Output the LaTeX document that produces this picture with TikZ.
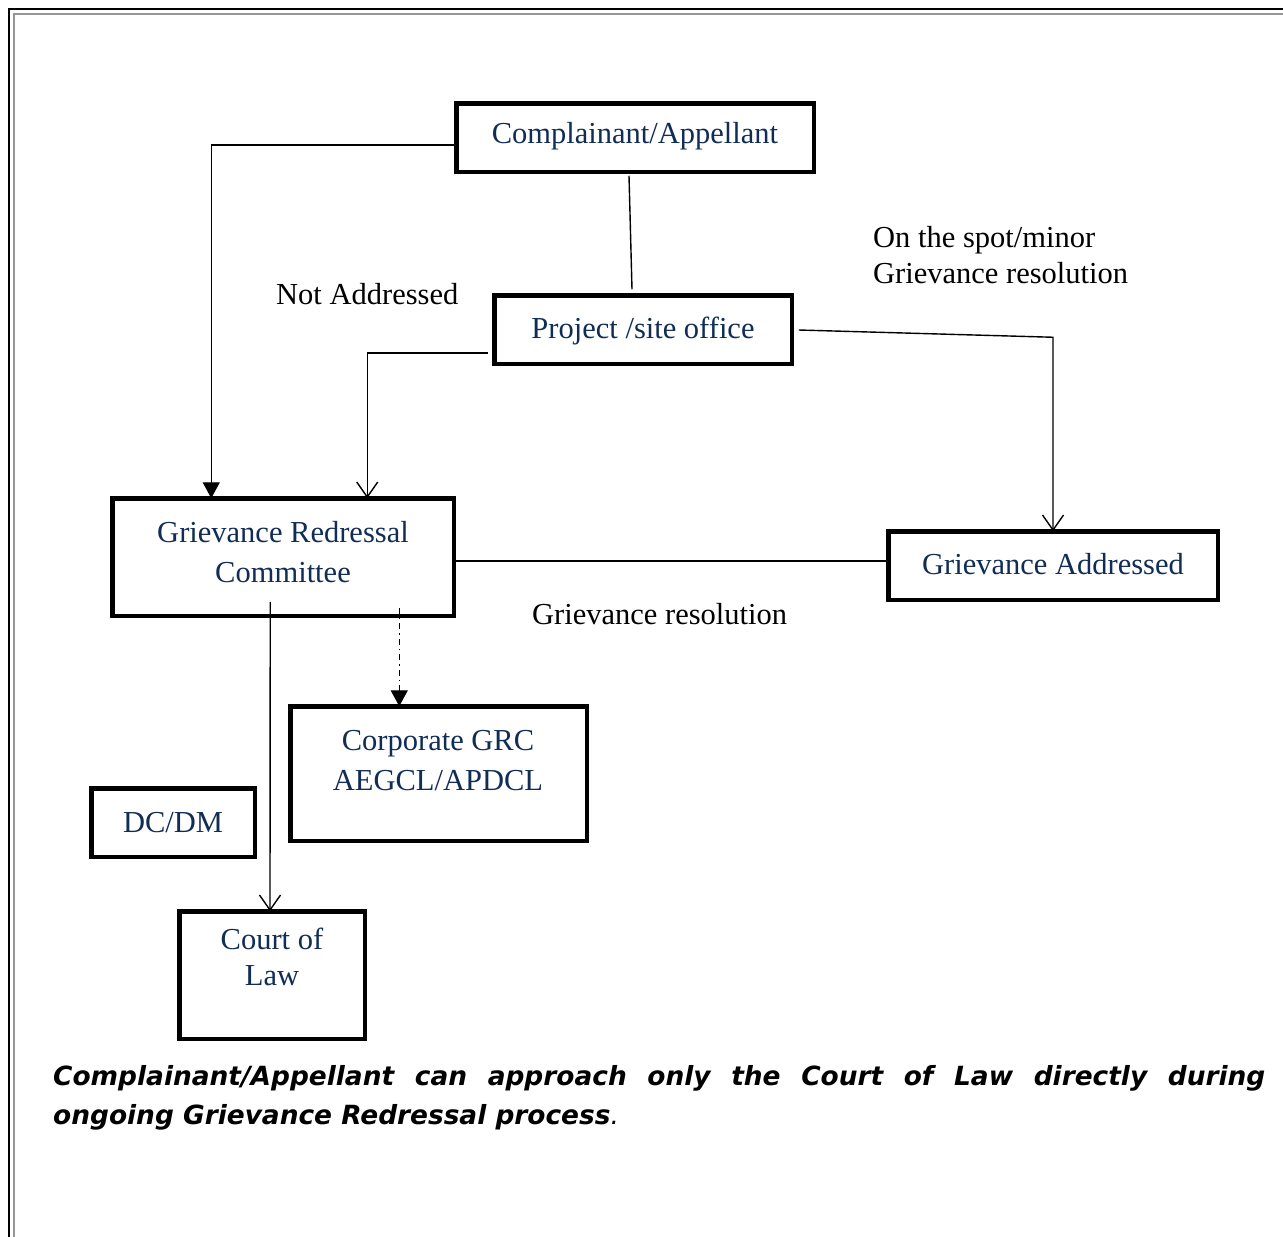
\documentclass[tikz,border=0pt]{standalone}
\usepackage{fontspec}
\setmainfont{Liberation Serif}
\newfontfamily\capfont{DejaVu Sans}
\usetikzlibrary{arrows.meta,calc}
\definecolor{navy}{RGB}{17,45,85}
\definecolor{framegray}{RGB}{150,150,150}
\begin{document}
\begin{tikzpicture}[x=1pt,y=-1pt,
  box/.style={draw,line width=4.5pt,inner sep=0pt,outer sep=0pt},
  lbl/.style={anchor=base,inner sep=0pt,text=navy,font=\fontsize{30.5}{36}\selectfont},
  note/.style={anchor=base west,inner sep=0pt,text=black,font=\fontsize{30.5}{36}\selectfont},
  conn/.style={draw,line width=1.4pt},
  fillarr/.style={-{Triangle[length=16pt,width=17pt]}},
  openarr/.style={-{Straight Barb[length=15pt,width=21pt,line width=1.4pt]}}]
\useasboundingbox (0,0) rectangle (1283,1237);
% page frame
\draw[line width=2pt] (9,1237) -- (9,9) -- (1283,9);
\draw[framegray,line width=1.8pt] (14,1237) -- (14,14) -- (1283,14);
% boxes
\node[box,minimum width=357.5pt,minimum height=68.5pt] (comp) at (635,137.5) {};
\node[box,minimum width=297.5pt,minimum height=68.5pt] (proj) at (643,329.5) {};
\node[box,minimum width=341.5pt,minimum height=117.5pt] (grc) at (283,557) {};
\node[box,minimum width=329.5pt,minimum height=68.5pt] (addr) at (1053,565.5) {};
\node[box,minimum width=296.5pt,minimum height=134.5pt] (corp) at (438.5,773.5) {};
\node[box,minimum width=163.5pt,minimum height=68.5pt] (dcdm) at (173,822.5) {};
\node[box,minimum width=185.5pt,minimum height=127.5pt] (court) at (272,975) {};
% box texts
\node[lbl] (tcomp) at (635,143) {Complainant/Appellant};
\node[lbl] (tproj) at (643,338) {Project /site office};
\node[lbl] (tgrc1) at (283,542) {Grievance Redressal};
\node[lbl] (tgrc2) at (283,582) {Committee};
\node[lbl] (taddr) at (1053,574) {Grievance Addressed};
\node[lbl] (tcorp1) at (438,750) {Corporate GRC};
\node[lbl] (tcorp2) at (438,790) {AEGCL/APDCL};
\node[lbl] (tdcdm) at (173,832) {DC/DM};
\node[lbl] (tcourt1) at (272,949) {Court of};
\node[lbl] (tcourt2) at (272,985) {Law};
% free labels
\node[note] (notaddr) at (276,304) {Not Addressed};
\node[note] (spot1) at (873,247) {On the spot/minor};
\node[note] (spot2) at (873,283) {Grievance resolution};
\node[note] (gres) at (532,624) {Grievance resolution};
% connectors
\draw[conn,fillarr] ($(comp.west)+(0,7.5)$) -| ($(grc.north west)+(99,0)$);
\draw[conn] ($(comp.south)+(-6,4)$) -- ($(proj.north)+(-11,-6)$);
\draw[conn,openarr] ($(proj.west)+(-6,23.5)$) -| ($(grc.north west)+(255,0)$);
\draw[conn,openarr] ($(proj.east)+(7,0.5)$) -- ($(addr.north)+(0,-194)$) -- (addr.north);
\draw[conn] ($(grc.east)+(0,4)$) -- ($(addr.west)+(0,-4.5)$);
\draw[conn,openarr] ($(grc.south west)+(158,-14)$) -- ($(court.north)+(-2,0)$);
\draw[conn,fillarr,dash pattern=on 6pt off 4pt on 1.5pt off 4pt] ($(grc.south west)+(287,-8)$) -- ($(corp.north west)+(109,0)$);
% caption
\node[anchor=base west,inner sep=0pt,text width=1212pt,align=justify,
  font=\capfont\bfseries\itshape\fontsize{26.4}{39.5}\selectfont] (caption) at (53,1085)
  {Complainant/Appellant can approach only the Court of  Law directly  during\linebreak ongoing Grievance Redressal process{\mdseries.}};
\end{tikzpicture}
\end{document}
